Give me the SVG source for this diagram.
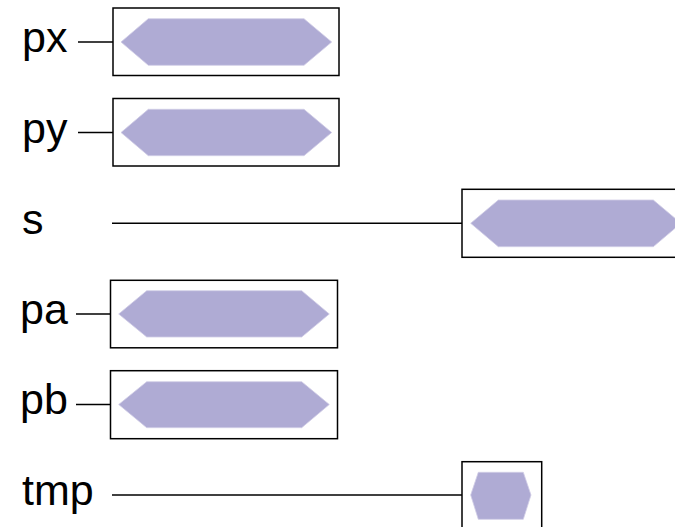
<svg xmlns="http://www.w3.org/2000/svg" width="675" height="527" viewBox="0 0 675 527">
<style>
.box{fill:#fff;stroke:#000;stroke-width:1.5}
.hex{fill:#afabd4;stroke:#d0cde6;stroke-width:0.8}
.lbl{font-family:"Liberation Sans",Arial,sans-serif;font-size:43px;fill:#000}
.con{stroke:#000;stroke-width:1.5;fill:none}
</style>
<rect width="675" height="527" fill="#fff"/>
<g id="connectors">
<line class="con" x1="78" y1="42" x2="113" y2="42"/>
<line class="con" x1="78" y1="132.5" x2="113" y2="132.5"/>
<line class="con" x1="112" y1="223.3" x2="462" y2="223.3"/>
<line class="con" x1="76" y1="314" x2="110.5" y2="314"/>
<line class="con" x1="76" y1="404.5" x2="110.5" y2="404.5"/>
<line class="con" x1="112" y1="495" x2="462" y2="495"/>
</g>
<g id="px">
<text class="lbl" x="22" y="52">px</text>
<rect class="box" x="113" y="8" width="226" height="67.5"/>
<polygon class="hex" points="121,42 148.3,18.7 304,18.7 331.7,42 304,65.3 148.3,65.3"/>
</g>
<g id="py">
<text class="lbl" x="22" y="142.5">py</text>
<rect class="box" x="113" y="98.5" width="226" height="67.5"/>
<polygon class="hex" points="121,132.5 148.3,109.3 304,109.3 331.7,132.5 304,155.7 148.3,155.7"/>
</g>
<g id="s">
<text class="lbl" x="22" y="233.5">s</text>
<rect class="box" x="462" y="189.3" width="226" height="68"/>
<polygon class="hex" points="470.7,223.3 498.3,200 653.3,200 681,223.3 653.3,246.7 498.3,246.7"/>
</g>
<g id="pa">
<text class="lbl" x="20" y="324">pa</text>
<rect class="box" x="110.5" y="280.3" width="227" height="67.5"/>
<polygon class="hex" points="118.7,314 146.7,290.7 301.7,290.7 329.3,314 301.7,337 146.7,337"/>
</g>
<g id="pb">
<text class="lbl" x="20" y="414">pb</text>
<rect class="box" x="110.5" y="370.7" width="227" height="68"/>
<polygon class="hex" points="118.7,404.5 146.7,381.7 301.7,381.7 329.3,404.5 301.7,427.7 146.7,427.7"/>
</g>
<g id="tmp">
<text class="lbl" x="22" y="505">tmp</text>
<rect class="box" x="462" y="461.7" width="79.7" height="68"/>
<polygon class="hex" points="470.7,495 478.3,472.3 523.3,472.3 531,495 523.3,519.3 478.3,519.3"/>
</g>
</svg>
